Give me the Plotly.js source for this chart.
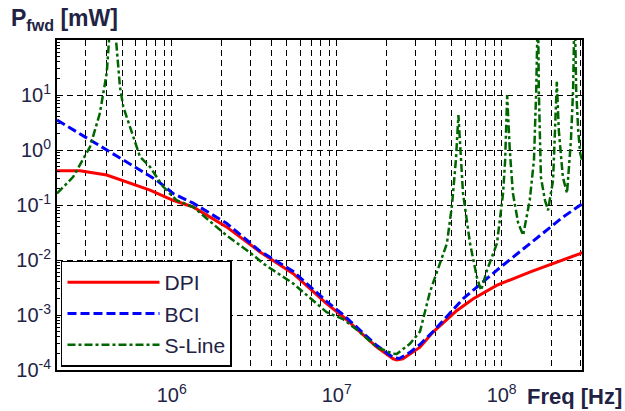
<!DOCTYPE html>
<html>
<head>
<meta charset="utf-8">
<script src="https://cdn.plot.ly/plotly-3.0.1.min.js"></script>
<style>
  html, body { margin: 0; padding: 0; background: #ffffff; }
  #chart { width: 625px; height: 411px; }
</style>
</head>
<body>
<div id="chart"></div>
<script>
// ---- data ----
const seriesNames = ['DPI', 'BCI', 'S-Line'];

const freqDPI = [2.02e5, 2.78e5, 4.04e5, 5.59e5, 7.39e5, 1.02e6, 1.35e6, 2.15e6, 3.43e6, 5.46e6,
  8.69e6, 1.10e7, 1.38e7, 1.75e7, 2.20e7, 2.31e7, 2.52e7, 2.78e7, 3.20e7, 3.84e7,
  5.36e7, 6.73e7, 9.33e7, 1.48e8, 2.35e8, 2.99e8, 3.07e8];
const pDPI = [0.42, 0.42, 0.35, 0.25, 0.186, 0.122, 0.092, 0.04, 0.014, 5.65e-3,
  1.61e-3, 9.2e-4, 4.9e-4, 2.6e-4, 1.6e-4, 1.53e-4, 1.6e-4, 1.97e-4, 2.6e-4, 4.9e-4,
  1.21e-3, 1.98e-3, 3.46e-3, 6.04e-3, 9.9e-3, 1.31e-2, 1.38e-2];

const freqBCI = [2.02e5, 3.20e5, 4.04e5, 5.09e5, 6.43e5, 8.11e5, 1.02e6, 1.35e6, 2.15e6, 3.43e6,
  5.46e6, 8.69e6, 1.10e7, 1.38e7, 1.75e7, 2.20e7, 2.40e7, 2.78e7, 3.20e7, 3.84e7,
  5.85e7, 9.33e7, 1.48e8, 2.36e8, 2.99e8, 3.07e8];
const pBCI = [3.51, 1.51, 1.0, 0.655, 0.43, 0.283, 0.162, 0.108, 0.0466, 0.0145,
  6.2e-3, 1.77e-3, 1.0e-3, 5.25e-4, 2.79e-4, 1.69e-4, 1.62e-4, 2.09e-4, 2.91e-4, 5.0e-4,
  1.98e-3, 6.5e-3, 0.0199, 0.0607, 0.099, 0.103];

const freqSLine = [2.02e5, 2.53e5, 3.20e5, 3.67e5, 4.04e5, 4.13e5, 4.35e5, 4.60e5, 4.86e5, 5.09e5,
  5.85e5, 6.43e5, 7.39e5, 8.89e5, 1.07e6, 1.35e6, 2.15e6, 3.13e6, 3.59e6, 5.46e6,
  8.69e6, 1.10e7, 1.38e7, 1.75e7, 2.20e7, 2.31e7, 2.78e7, 3.20e7, 3.67e7, 4.23e7,
  4.66e7, 5.0e7, 5.28e7, 5.47e7, 5.66e7, 5.83e7, 6.43e7, 7.08e7, 7.5e7, 8.15e7,
  9.37e7, 1.02e8, 1.05e8, 1.08e8, 1.12e8, 1.17e8, 1.26e8, 1.35e8, 1.48e8, 1.57e8,
  1.62e8, 1.66e8, 1.68e8, 1.73e8, 1.83e8, 1.91e8, 2.05e8, 2.10e8, 2.16e8, 2.22e8,
  2.35e8, 2.49e8, 2.63e8, 2.71e8, 2.77e8, 2.83e8, 2.91e8, 2.99e8, 3.07e8];
const pSLine = [0.162, 0.325, 1.14, 4.64, 25, 100, 600, 100, 14, 6.1,
  1.74, 0.75, 0.494, 0.214, 0.122, 0.092, 0.028, 0.0122, 8.6e-3, 3.72e-3,
  1.13e-3, 8.3e-4, 4.9e-4, 2.6e-4, 1.97e-4, 1.95e-4, 3.0e-4, 5.0e-4, 2.58e-3, 9.1e-3,
  0.0201, 0.099, 0.655, 4.3, 0.655, 0.164, 0.0201, 4.84e-3, 2.8e-3, 6.49e-3,
  0.0201, 0.164, 0.655, 10, 1.0, 0.164, 0.0466, 0.0282, 0.122, 0.655,
  12.3, 500, 12.3, 0.32, 0.122, 0.08, 0.283, 2.3, 17.3, 2.3,
  0.32, 0.164, 1.51, 12.3, 500, 12.3, 2.3, 0.88, 0.66];

// ---- ticks ----
const xDecades = [1e6, 1e7, 1e8];
const xDecadeLabels = ['10<sup>6</sup>', '10<sup>7</sup>', '10<sup>8</sup>'];
const xMinorGrid = [2e5, 3e5, 4e5, 5e5, 6e5, 7e5, 8e5, 9e5,
  2e6, 3e6, 4e6, 5e6, 6e6, 7e6, 8e6, 9e6,
  2e7, 3e7, 4e7, 5e7, 6e7, 7e7, 8e7, 9e7,
  2e8, 3e8];
const yDecades = [1e-4, 1e-3, 1e-2, 1e-1, 1, 10];
const yDecadeLabels = ['10<sup>-4</sup>', '10<sup>-3</sup>', '10<sup>-2</sup>', '10<sup>-1</sup>', '10<sup>0</sup>', '10<sup>1</sup>'];
const yMinor = [];
[1e-4, 1e-3, 1e-2, 1e-1, 1, 10].forEach(d => { for (let k = 2; k <= 9; k++) yMinor.push(d * k); });

const FONT = 'Liberation Sans, Arial, sans-serif';
const TXT = '#222244';
const GRID = { showgrid: true, gridcolor: '#000000', gridwidth: 1, griddash: '6px,4px' };

const traces = [
  { x: freqDPI, y: pDPI, name: seriesNames[0], legendgroup: 'a', mode: 'lines',
    line: { color: '#ff0000', width: 3 } },
  { x: freqBCI, y: pBCI, name: seriesNames[1], legendgroup: 'b', mode: 'lines',
    line: { color: '#0000ff', width: 3, dash: '9px,4px' } },
  { x: freqSLine, y: pSLine, name: seriesNames[2], legendgroup: 'c', mode: 'lines',
    line: { color: '#006600', width: 2.5, dash: '8px,3px,3px,3px' } }
];

const layout = {
  width: 625, height: 411,
  margin: { l: 57, r: 43, t: 40, b: 41, pad: 0 },
  paper_bgcolor: '#ffffff', plot_bgcolor: '#ffffff',
  font: { family: FONT, color: TXT, size: 20 },
  showlegend: true,
  legend: {
    x: 0.0076, y: 0.0106, xanchor: 'left', yanchor: 'bottom',
    bgcolor: '#ffffff', bordercolor: '#000000', borderwidth: 1.5,
    font: { family: FONT, size: 21, color: TXT },
    itemwidth: 92, tracegroupgap: 1
  },
  xaxis: Object.assign({
    type: 'log', range: [5.305, 8.487],
    tickmode: 'array', tickvals: xDecades, ticktext: xDecadeLabels,
    ticks: '', ticklabelstandoff: 6,
    minor: Object.assign({ tickmode: 'array', tickvals: xMinorGrid, ticks: '' }, GRID),
    showline: true, linecolor: '#000000', linewidth: 2, mirror: true,
    zeroline: false, tickfont: { family: FONT, size: 20, color: TXT }
  }, GRID),
  yaxis: Object.assign({
    type: 'log', range: [-4, 2],
    tickmode: 'array', tickvals: yDecades, ticktext: yDecadeLabels,
    ticks: 'inside', ticklen: 5, tickcolor: '#000000',
    minor: { tickmode: 'array', tickvals: yMinor, ticks: 'inside', ticklen: 3, tickcolor: '#000000', showgrid: false },
    showline: true, linecolor: '#000000', linewidth: 2, mirror: true,
    zeroline: false, tickfont: { family: FONT, size: 20, color: TXT }
  }, GRID),
  annotations: [
    { text: '<b>P<sub>fwd</sub> [mW]</b>', xref: 'paper', yref: 'paper',
      x: -0.0915, y: 1.0607, xanchor: 'left', yanchor: 'middle', showarrow: false,
      font: { family: FONT, size: 23, color: TXT } },
    { text: '<b>Freq [Hz]</b>', xref: 'paper', yref: 'paper',
      x: 0.891, y: -0.0804, xanchor: 'left', yanchor: 'middle', showarrow: false,
      font: { family: FONT, size: 22, color: TXT } }
  ]
};

Plotly.newPlot('chart', traces, layout, { displayModeBar: false, staticPlot: true });
</script>
</body>
</html>
